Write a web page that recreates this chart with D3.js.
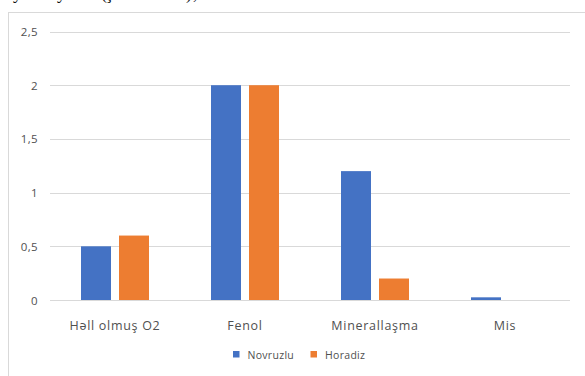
<!DOCTYPE html>
<html>
<head>
<meta charset="utf-8">
<script src="https://cdn.jsdelivr.net/npm/d3@7"></script>
<style>
  html, body { margin: 0; padding: 0; background: #fff; }
  svg { display: block; }
</style>
</head>
<body>
<svg id="chart" width="585" height="376"></svg>
<script>
// Categories and series
const categories = ["Həll olmuş O2", "Fenol", "Minerallaşma", "Mis"];
const seriesNames = ["Novruzlu", "Horadiz"];
const novruzlu = [0.5, 2, 1.2, 0.025];
const horadiz = [0.6, 2, 0.2, 0];
const yTicks = [0, 0.5, 1, 1.5, 2, 2.5];
const colors = ["#4472c4", "#ed7d31"];

const svg = d3.select("#chart");
const W = 585, H = 376;
const textColor = "#505050";

// Fragment of the surrounding document text (only descenders remain visible)
const frag = [["y", 13], ["y", 57], ["(", 101], ["ş", 106], [")", 186], [",", 193]];
svg.selectAll("text.frag").data(frag).join("text")
  .attr("class", "frag")
  .attr("x", d => d[1]).attr("y", -1.5)
  .attr("font-family", "Liberation Serif, Times New Roman, serif")
  .attr("font-size", 18).attr("fill", "#111")
  .text(d => d[0]);

// Chart frame
svg.append("rect")
  .attr("x", 8.5).attr("y", 12.5)
  .attr("width", W).attr("height", H)
  .attr("fill", "#fff").attr("stroke", "#d9d9d9").attr("stroke-width", 1);

const plot = { left: 50, right: 570, top: 31.5, bottom: 300 };

const y = d3.scaleLinear().domain([0, 2.5]).range([plot.bottom, plot.top]);
const x0 = d3.scaleBand().domain(categories).range([plot.left, plot.right]).padding(0);
const x1 = d3.scaleBand().domain(seriesNames).range([31, 99]).paddingInner(0.2105).paddingOuter(0);

const fmt = v => String(v).replace(".", ",");

// Gridlines
svg.append("g").selectAll("line").data(yTicks).join("line")
  .attr("x1", plot.left).attr("x2", plot.right)
  .attr("y1", d => Math.round(y(d)) + 0.5).attr("y2", d => Math.round(y(d)) + 0.5)
  .attr("stroke", "#d9d9d9").attr("stroke-width", 1);

// Y tick labels
svg.append("g").selectAll("text").data(yTicks).join("text")
  .attr("x", 38).attr("y", d => y(d) + 4.5)
  .attr("text-anchor", "end")
  .attr("font-family", "Open Sans, sans-serif").attr("font-size", 11.5)
  .attr("letter-spacing", 0.4)
  .attr("fill", textColor)
  .text(fmt);

// Bars
const rows = categories.map((c, i) => ({ cat: c, vals: [novruzlu[i], horadiz[i]] }));
const groups = svg.append("g").selectAll("g").data(rows).join("g")
  .attr("transform", d => `translate(${x0(d.cat)},0)`);
groups.selectAll("rect")
  .data(d => d.vals.map((v, k) => ({ name: seriesNames[k], v, k })).filter(e => e.v > 0))
  .join("rect")
  .attr("x", d => x1(d.name))
  .attr("width", x1.bandwidth())
  .attr("y", d => y(d.v))
  .attr("height", d => y(0) - y(d.v))
  .attr("fill", d => colors[d.k]);

// Category labels
svg.append("g").selectAll("text").data(categories).join("text")
  .attr("x", d => x0(d) + x0.bandwidth() / 2)
  .attr("y", 330)
  .attr("text-anchor", "middle")
  .attr("font-family", "Open Sans, sans-serif").attr("font-size", 12.5)
  .attr("letter-spacing", 0.7)
  .attr("fill", textColor)
  .text(d => d);

// Legend
const legendX = [233, 310.5];
const lg = svg.append("g").selectAll("g").data(seriesNames).join("g")
  .attr("transform", (d, i) => `translate(${legendX[i]},351)`);
lg.append("rect").attr("width", 6.5).attr("height", 6.5)
  .attr("fill", (d, i) => colors[i]);
lg.append("text").attr("x", 14.5).attr("y", 7.5)
  .attr("font-family", "Open Sans, sans-serif").attr("font-size", 10.5)
  .attr("letter-spacing", 0.3)
  .attr("fill", textColor)
  .text(d => d);
</script>
</body>
</html>
